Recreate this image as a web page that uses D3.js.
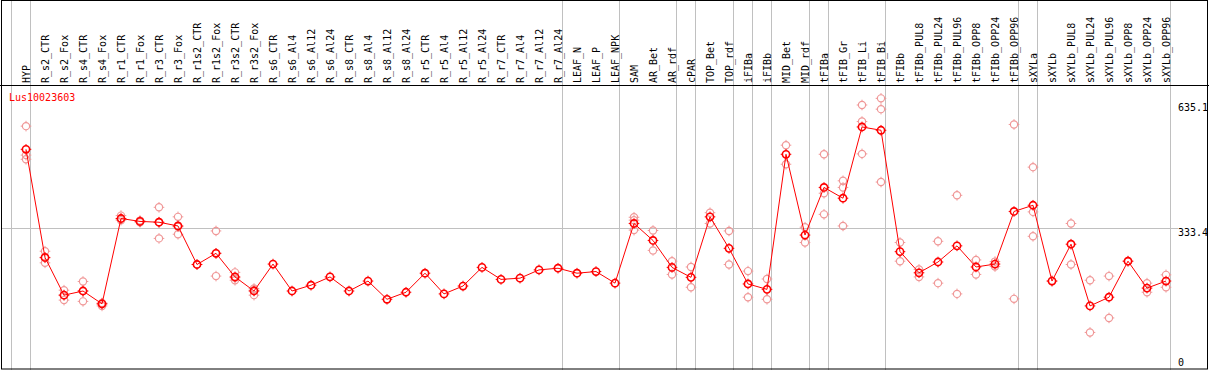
<!DOCTYPE html>
<html><head><meta charset="utf-8">
<script src="https://cdn.jsdelivr.net/npm/d3@7"></script>
<style>body{margin:0;background:#fff}svg{display:block}text{font-family:"DejaVu Sans Mono",monospace;}</style>
</head><body>
<svg id="c" width="1209" height="370"></svg>
<script>
const geneName = "Lus10023603";
const categories = ["HYP","R_s2_CTR","R_s2_Fox","R_s4_CTR","R_s4_Fox","R_r1_CTR","R_r1_Fox","R_r3_CTR","R_r3_Fox","R_r1s2_CTR","R_r1s2_Fox","R_r3s2_CTR","R_r3s2_Fox","R_s6_CTR","R_s6_Al4","R_s6_Al12","R_s6_Al24","R_s8_CTR","R_s8_Al4","R_s8_Al12","R_s8_Al24","R_r5_CTR","R_r5_Al4","R_r5_Al12","R_r5_Al24","R_r7_CTR","R_r7_Al4","R_r7_Al12","R_r7_Al24","LEAF_N","LEAF_P","LEAF_NPK","SAM","AR_Bet","AR_rdf","cPAR","TOP_Bet","TOP_rdf","iFIBa","iFIBb","MID_Bet","MID_rdf","tFIBa","tFIB_Gr","tFIB_Li","tFIB_Bi","tFIBb","tFIBb_PUL8","tFIBb_PUL24","tFIBb_PUL96","tFIBb_OPP8","tFIBb_OPP24","tFIBb_OPP96","sXYLa","sXYLb","sXYLb_PUL8","sXYLb_PUL24","sXYLb_PUL96","sXYLb_OPP8","sXYLb_OPP24","sXYLb_OPP96"];
const means = [524,263,172,182,151,357,350,348,339,246,273,216,182,247,182,196,216,182,206,162,179,225,175,194,239,210,213,233,237,225,229,201,345,304,239,215,361,285,199,186,512,317,432,406,578,570,277,226,252,291,240,247,374,389,206,295,146,167,254,189,206];
const replicates = [
 [580,510,500],[278,250,262],[184,160,172],[205,157,182],[146,153,151],[364,356,353],[352,348],[384,309,348],[361,319,337],[246],[327,218,273],[227,208,214],[188,172,184],
 [],[],[],[],[],[],[],[],[],[],[],[],[],[],[],[],[],[],[],
 [360,353,329],[328,280],[254,222],[240,191],[371,345],[327,246],[230,167],[211,162],[534,488],[336,299],[512,418,367],[448,432,339],[631,591,513],[647,621,445],
 [299,254],[234,216],[302,201],[413,175],[257,222],[253,241],[584,163],[481,373,314],[206],[345,246],[208,82],[218,117],[254],[201,179],[221,191]
];
const groupStarts = ["HYP","R_s2_CTR","LEAF_N","SAM","cPAR","TOP_Bet","iFIBa","iFIBb","MID_Bet","tFIBa","tFIB_Gr","tFIBb","sXYLa","sXYLb"];
const axisTicks = [0, 333.4, 635.1];
const gridValues = [333.4];

const svg = d3.select("#c");
const W = 1209, H = 370;
const x = d3.scaleBand().domain(categories).range([16.5, 1175.5]);
const cx = c => x(c) + x.bandwidth()/2;
const y = d3.scaleLinear().domain([0, 635.1]).range([366.4, 103.3]);
const sepX = c => x(c) - 5;
const lineGray = "#c0c0c0";

// grid
svg.append("g").selectAll("line.v").data(groupStarts.concat(["__end"])).join("line")
  .attr("x1", d => d === "__end" ? 1170.5 : sepX(d)).attr("x2", d => d === "__end" ? 1170.5 : sepX(d))
  .attr("y1", 0).attr("y2", H).attr("stroke", lineGray).attr("stroke-width", 1);
svg.append("g").selectAll("line.h").data(gridValues).join("line")
  .attr("x1", 1).attr("x2", 1178).attr("y1", d => Math.round(y(d)) + 0.5).attr("y2", d => Math.round(y(d)) + 0.5)
  .attr("stroke", lineGray).attr("stroke-width", 1);

// frame
svg.append("rect").attr("x", 1.5).attr("y", 0.5).attr("width", 1206).attr("height", 368.5)
  .attr("fill", "none").attr("stroke", "#000").attr("stroke-width", 1);
svg.append("line").attr("x1", 0).attr("x2", W).attr("y1", 85.5).attr("y2", 85.5).attr("stroke", "#000");

// category labels
svg.append("g").selectAll("text").data(categories).join("text")
  .attr("transform", d => `translate(${cx(d) + 3.5},83) rotate(-90)`)
  .attr("font-size", 10).attr("fill", "#000").text(d => d);

// title
svg.append("text").attr("x", 9).attr("y", 101).attr("font-size", 10).attr("fill", "#ff0000").text(geneName);

// axis labels
svg.append("g").selectAll("text").data(axisTicks).join("text")
  .attr("x", 1178).attr("y", d => Math.min(y(d) + 7.5, 366)).attr("font-size", 10).attr("fill", "#000")
  .text(d => d === 0 ? "0" : d3.format(".1f")(d));

// marker helper
function marker(g, color, sw) {
  g.append("circle").attr("r", 3.6).attr("fill", "none").attr("stroke", color).attr("stroke-width", sw);
  g.append("path").attr("d", "M0,-5.3V-3.6M0,3.6V5.3M-5.3,0H-3.6M3.6,0H5.3").attr("stroke", color).attr("stroke-width", 1);
}

// replicates
const repData = [];
categories.forEach((c, i) => replicates[i].forEach(v => repData.push({c, v})));
svg.append("g").selectAll("g").data(repData).join("g")
  .attr("transform", d => `translate(${cx(d.c)},${y(d.v)})`)
  .each(function(){ marker(d3.select(this), "#f09898", 1.2); });

// mean line
svg.append("path").datum(means)
  .attr("d", d3.line().x((d, i) => cx(categories[i])).y(d => y(d)))
  .attr("fill", "none").attr("stroke", "#ff0000").attr("stroke-width", 1);

// means
svg.append("g").selectAll("g").data(means).join("g")
  .attr("transform", (d, i) => `translate(${cx(categories[i])},${y(d)})`)
  .each(function(){ marker(d3.select(this), "#ff0000", 1.6); });
// re-draw axis labels area cover for right border crop
</script>
</body></html>
